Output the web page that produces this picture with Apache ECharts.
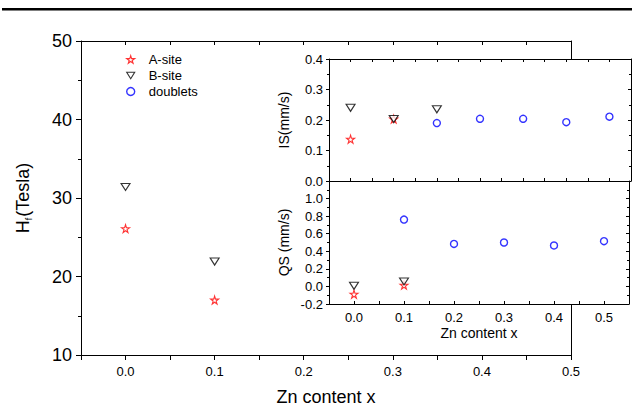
<!DOCTYPE html>
<html>
<head>
<meta charset="utf-8">
<script src="https://cdn.jsdelivr.net/npm/echarts@6/dist/echarts.min.js"></script>
<style>
  html, body { margin: 0; padding: 0; background: #fff; }
  #chart { width: 632px; height: 411px; }
</style>
</head>
<body>
<div id="chart"></div>
<script>
// main panel: hyperfine field vs Zn content
const hfX = [0.0, 0.1];
const hfA = [26.1, 17.0];
const hfB = [31.4, 21.9];

// inset top: IS (mm/s)
const isXA = [0.0, 0.1];
const isA = [0.137, 0.203];
const isXB = [0.0, 0.1, 0.2];
const isB = [0.240, 0.203, 0.235];
const isXD = [0.2, 0.3, 0.4, 0.5, 0.6];
const isD = [0.190, 0.204, 0.204, 0.193, 0.211];

// inset bottom: QS (mm/s)
const qsXA = [0.0, 0.1];
const qsA = [-0.088, 0.015];
const qsXB = [0.0, 0.1];
const qsB = [0.007, 0.057];
const qsXD = [0.1, 0.2, 0.3, 0.4, 0.5];
const qsD = [0.761, 0.484, 0.500, 0.466, 0.515];

const FONT = 'Liberation Sans, Arial, sans-serif';
const STAR = 'path://M50,0 L61,35 L98,35 L68,57 L79,91 L50,70 L21,91 L32,57 L2,35 L39,35 Z';
const TRI_DOWN = 'path://M0,0 L10,0 L5,8 Z';

const zip = (xs, ys) => xs.map((x, i) => [x, ys[i]]);

// only label multiples of 0.1
const tenth = v => {
    const k = v * 10;
    return Math.abs(k - Math.round(k)) < 1e-6 ? v.toFixed(1) : '';
};

const lineStyle = { color: '#000', width: 1 };

function frameAxis(extra) {
    return Object.assign({
        type: 'value',
        axisLine: { show: true, onZero: false, lineStyle: lineStyle },
        axisTick: { show: false },
        axisLabel: { show: false },
        splitLine: { show: false }
    }, extra);
}

const starStyle = { color: '#fff', borderColor: '#ff0000', borderWidth: 1.1 };
const triStyle = { color: '#fff', borderColor: '#000', borderWidth: 1.1 };
const circStyle = { color: '#fff', borderColor: '#0000ff', borderWidth: 1.4 };

function sA(data, xi, yi, z) {
    return { name: 'A-site', type: 'scatter', xAxisIndex: xi, yAxisIndex: yi, z: z,
        symbol: STAR, symbolSize: 8, itemStyle: starStyle, data: data };
}
function sB(data, xi, yi, z) {
    return { name: 'B-site', type: 'scatter', xAxisIndex: xi, yAxisIndex: yi, z: z,
        symbol: TRI_DOWN, symbolSize: [9, 7], itemStyle: triStyle, data: data };
}
function sD(data, xi, yi, z) {
    return { name: 'doublets', type: 'scatter', xAxisIndex: xi, yAxisIndex: yi, z: z,
        symbol: 'circle', symbolSize: 7, itemStyle: circStyle, data: data };
}

const chart = echarts.init(document.getElementById('chart'), null, { renderer: 'svg' });

chart.setOption({
    animation: false,
    backgroundColor: '#fff',
    textStyle: { fontFamily: FONT },
    graphic: [{
        type: 'rect', left: 2, top: 8, z: 100,
        shape: { width: 630, height: 2.5 },
        style: { fill: '#000' }
    }],
    legend: {
        orient: 'vertical', left: 121, top: 48,
        itemWidth: 8, itemHeight: 8, itemGap: 3,
        data: [
            { name: 'A-site', icon: STAR, itemStyle: starStyle },
            { name: 'B-site', icon: TRI_DOWN, itemStyle: triStyle },
            { name: 'doublets', icon: 'circle', itemStyle: circStyle }
        ],
        textStyle: { fontFamily: FONT, fontSize: 13, color: '#000', padding: [0, 0, 0, 9] }
    },
    grid: [
        { left: 81, top: 41, width: 490, height: 319, z: 0 },
        { left: 329, top: 59, width: 302, height: 122, show: true, backgroundColor: '#fff', borderWidth: 0, z: 5 },
        { left: 329, top: 181, width: 302, height: 123, show: true, backgroundColor: '#fff', borderWidth: 0, z: 5 }
    ],
    xAxis: [
        // main bottom
        frameAxis({
            gridIndex: 0, position: 'bottom', min: -0.05, max: 0.5, interval: 0.05,
            axisTick: { show: true, length: 5, lineStyle: lineStyle },
            axisLabel: { show: true, formatter: tenth, fontSize: 13, color: '#000', margin: 10, fontFamily: FONT },
            name: 'Zn content x', nameLocation: 'middle', nameGap: 33,
            nameTextStyle: { fontSize: 18, color: '#000', fontFamily: FONT }
        }),
        // main top
        frameAxis({
            gridIndex: 0, position: 'top', min: -0.05, max: 0.5, interval: 0.05,
            axisTick: { show: true, inside: true, length: 4, lineStyle: lineStyle }
        }),
        // inset top panel, bottom edge
        frameAxis({
            gridIndex: 1, position: 'bottom', min: -0.05, max: 0.65, interval: 0.05, z: 6,
            axisTick: { show: true, inside: true, length: 3, lineStyle: lineStyle }
        }),
        // inset top panel, top edge
        frameAxis({
            gridIndex: 1, position: 'top', min: -0.05, max: 0.65, interval: 0.05, z: 6,
            axisTick: { show: true, inside: true, length: 3, lineStyle: lineStyle }
        }),
        // inset bottom panel, bottom edge
        frameAxis({
            gridIndex: 2, position: 'bottom', min: -0.05, max: 0.55, interval: 0.05, z: 6,
            axisTick: { show: true, inside: true, length: 3, lineStyle: lineStyle },
            axisLabel: { show: true, formatter: tenth, fontSize: 13, color: '#000', margin: 7, fontFamily: FONT },
            name: 'Zn content x', nameLocation: 'middle', nameGap: 22,
            nameTextStyle: { fontSize: 14, color: '#000', fontFamily: FONT }
        })
    ],
    yAxis: [
        // main left
        frameAxis({
            gridIndex: 0, position: 'left', min: 10, max: 50, interval: 10,
            axisTick: { show: true, length: 5, lineStyle: lineStyle },
            minorTick: { show: true, splitNumber: 2, length: 3, lineStyle: lineStyle },
            axisLabel: { show: true, fontSize: 18, color: '#000', margin: 9, fontFamily: FONT },
            name: '{a|H}{b|f}{a|(Tesla)}', nameLocation: 'middle', nameGap: 48,
            nameTextStyle: {
                color: '#000',
                rich: {
                    a: { fontSize: 18, fontFamily: FONT, color: '#000' },
                    b: { fontSize: 9, fontFamily: FONT, color: '#000', padding: [11, 1, 0, 0] }
                }
            }
        }),
        // main right
        frameAxis({ gridIndex: 0, position: 'right', min: 10, max: 50, interval: 10 }),
        // inset top panel left
        frameAxis({
            gridIndex: 1, position: 'left', min: 0, max: 0.4, interval: 0.1, z: 6,
            axisTick: { show: true, length: 3, lineStyle: lineStyle },
            minorTick: { show: true, splitNumber: 2, length: 2, lineStyle: lineStyle },
            axisLabel: { show: true, formatter: v => v.toFixed(1), fontSize: 13, color: '#000', margin: 6, fontFamily: FONT },
            name: 'IS(mm/s)', nameLocation: 'middle', nameGap: 38,
            nameTextStyle: { fontSize: 14, color: '#000', fontFamily: FONT }
        }),
        // inset top panel right
        frameAxis({
            gridIndex: 1, position: 'right', min: 0, max: 0.4, interval: 0.1, z: 6,
            axisTick: { show: true, inside: true, length: 3, lineStyle: lineStyle },
            minorTick: { show: true, splitNumber: 2, length: 2, lineStyle: lineStyle }
        }),
        // inset bottom panel left
        frameAxis({
            gridIndex: 2, position: 'left', min: -0.2, max: 1.2, interval: 0.2, z: 6,
            axisTick: { show: true, length: 3, lineStyle: lineStyle },
            minorTick: { show: true, splitNumber: 2, length: 2, lineStyle: lineStyle },
            axisLabel: {
                show: true, showMaxLabel: false, fontSize: 13, color: '#000', margin: 6, fontFamily: FONT,
                formatter: v => (v > 1.1 ? '' : v.toFixed(1))
            },
            name: 'QS (mm/s)', nameLocation: 'middle', nameGap: 38,
            nameTextStyle: { fontSize: 14, color: '#000', fontFamily: FONT }
        }),
        // inset bottom panel right
        frameAxis({
            gridIndex: 2, position: 'right', min: -0.2, max: 1.2, interval: 0.2, z: 6,
            axisTick: { show: true, inside: true, length: 3, lineStyle: lineStyle },
            minorTick: { show: true, splitNumber: 2, length: 2, lineStyle: lineStyle }
        })
    ],
    series: [
        sA(zip(hfX, hfA), 0, 0, 2),
        sB(zip(hfX, hfB), 0, 0, 2),
        sA(zip(isXA, isA), 2, 2, 8),
        sB(zip(isXB, isB), 2, 2, 8),
        sD(zip(isXD, isD), 2, 2, 8),
        sA(zip(qsXA, qsA), 4, 4, 8),
        sB(zip(qsXB, qsB), 4, 4, 8),
        sD(zip(qsXD, qsD), 4, 4, 8)
    ]
});
</script>
</body>
</html>
